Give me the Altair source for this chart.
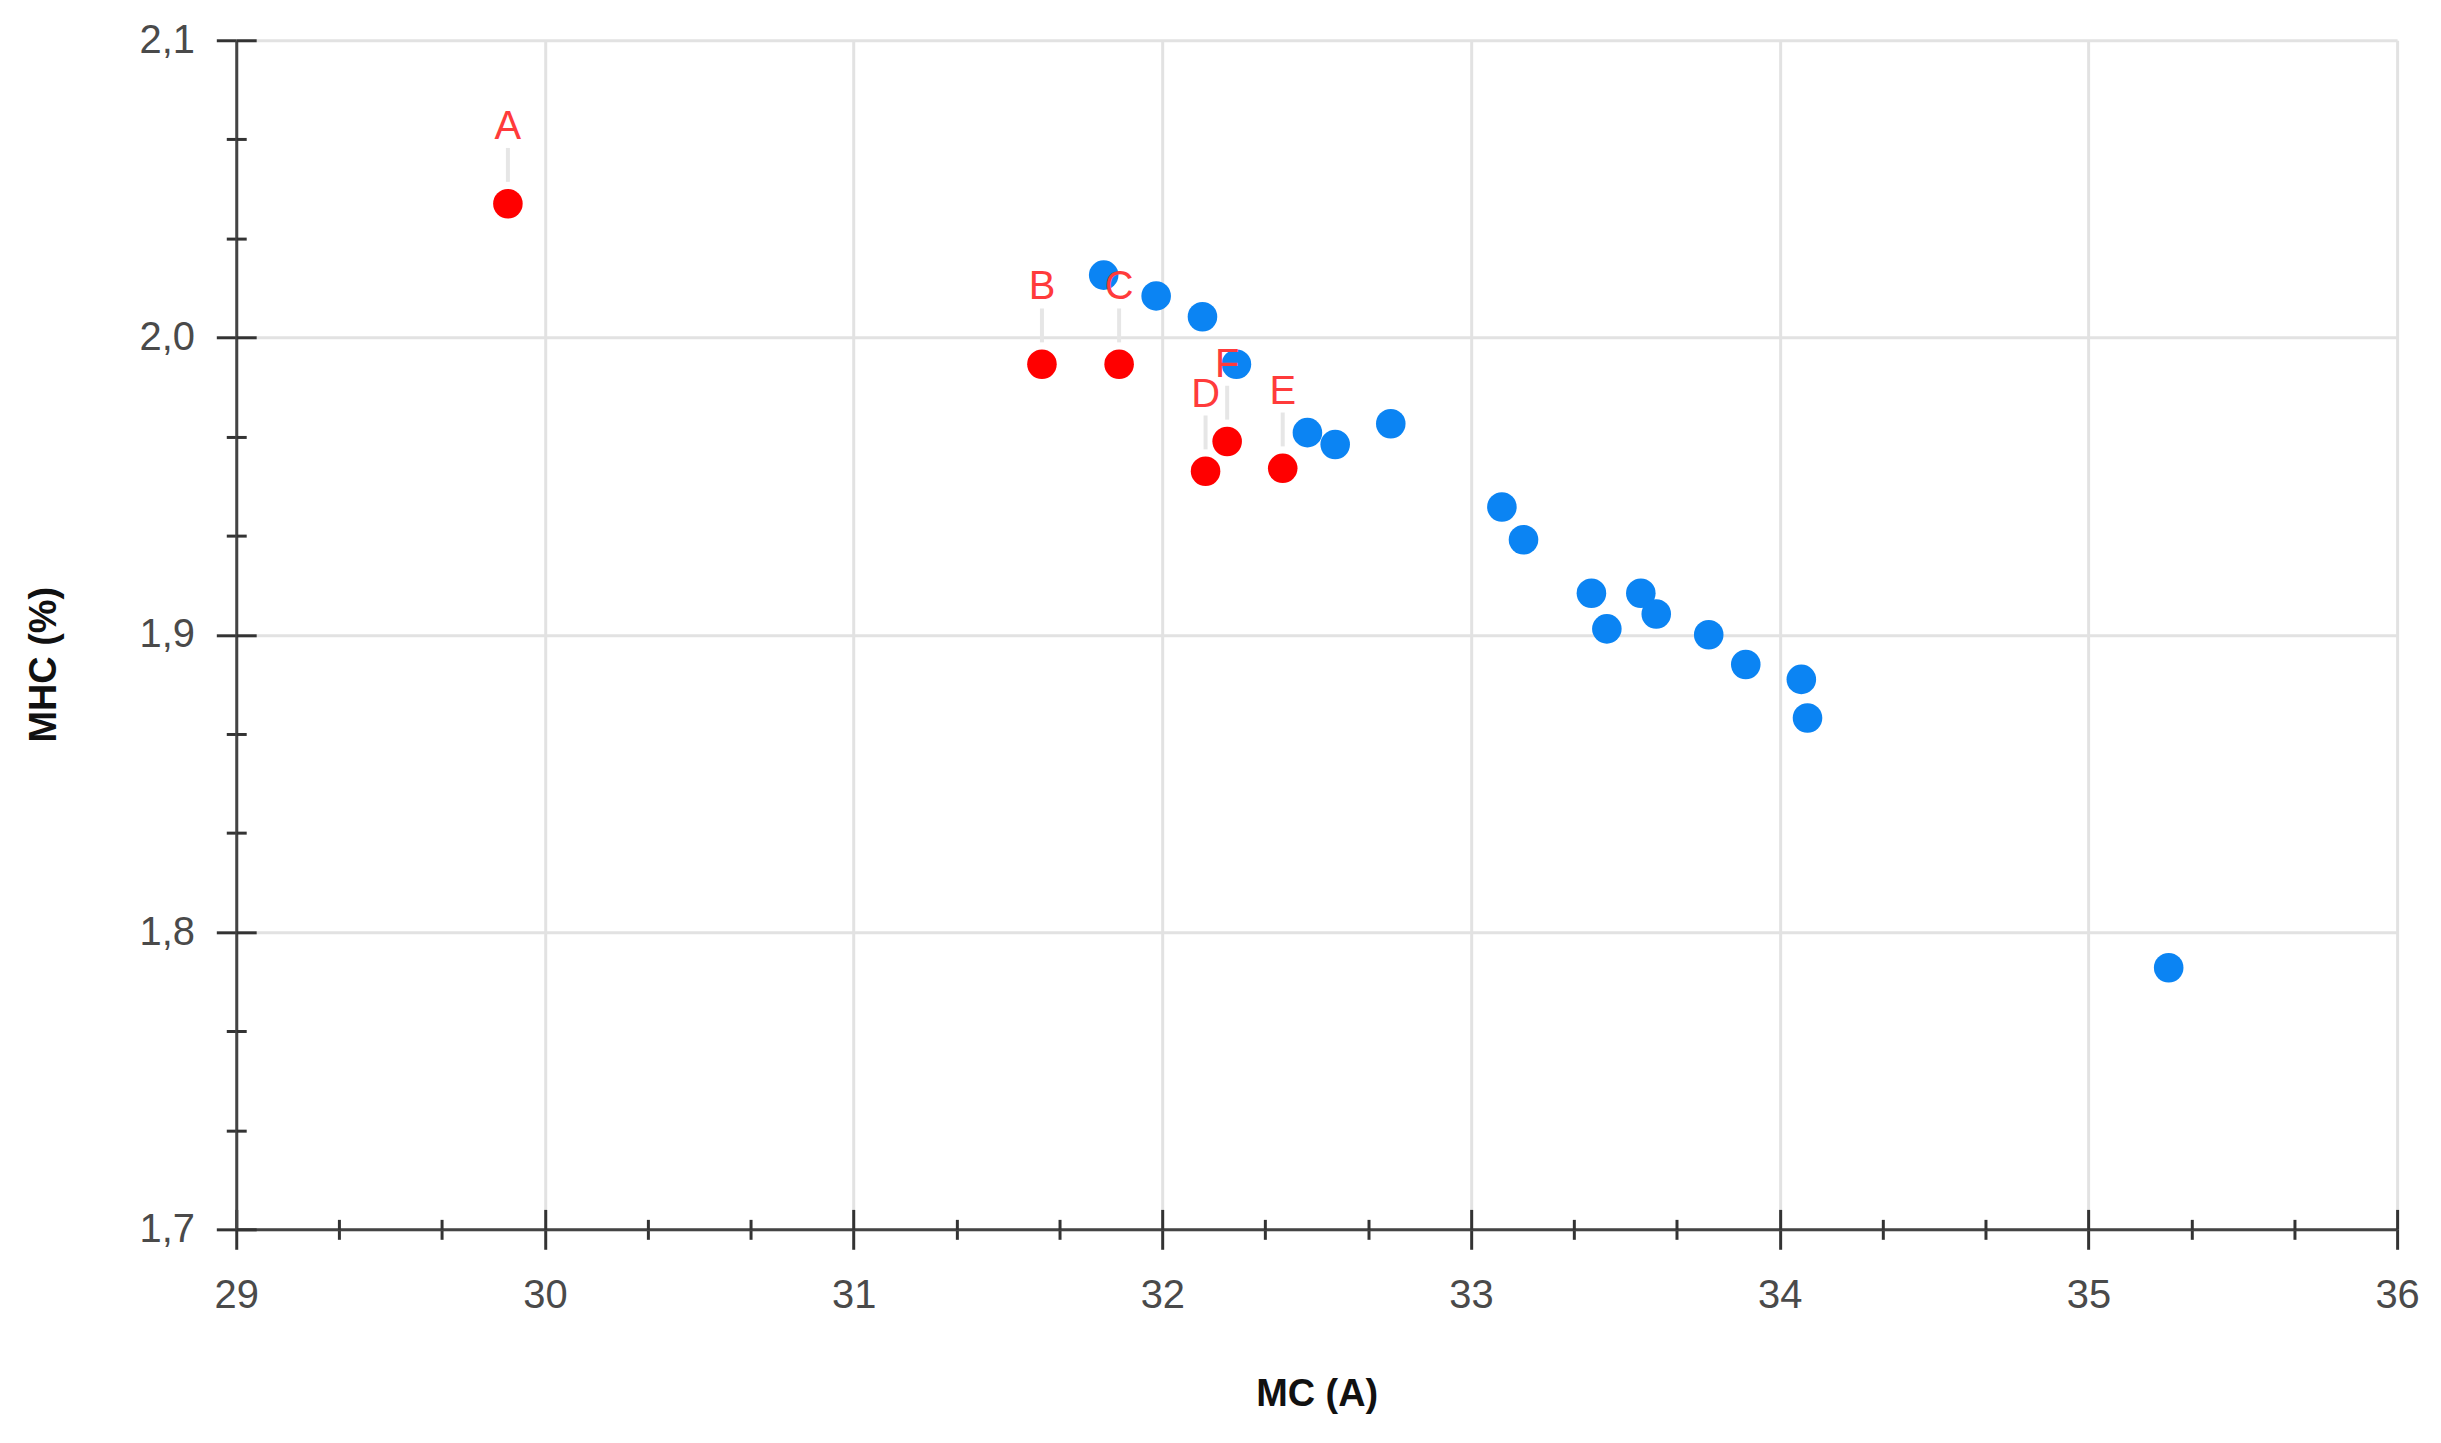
import altair as alt
import pandas as pd

# red (labelled) samples
red_labels = ["A", "B", "C", "D", "E", "F"]
red_mc = [29.88, 31.61, 31.86, 32.14, 32.39, 32.21]
red_mhc = [2.045, 1.991, 1.991, 1.955, 1.956, 1.965]

# blue samples
blue_mc = [31.81, 31.98, 32.13, 32.24, 32.47, 32.56, 32.74, 33.10, 33.17,
           33.39, 33.44, 33.55, 33.60, 33.77, 33.89, 34.07, 34.09, 35.26]
blue_mhc = [2.021, 2.014, 2.007, 1.991, 1.968, 1.964, 1.971, 1.943, 1.932,
            1.914, 1.902, 1.914, 1.907, 1.900, 1.890, 1.885, 1.872, 1.788]

# axis ticks: majors plus two minor ticks in between
x_ticks = [round(29 + i / 3, 4) for i in range(22)]
y_ticks = [round(1.7 + i * 0.1 / 3, 5) for i in range(13)]

W, H = 2168, 1193

red = pd.DataFrame({"label": red_labels, "mc": red_mc, "mhc": red_mhc})
blue = pd.DataFrame({"mc": blue_mc, "mhc": blue_mhc})

x_major = "abs(datum.value - round(datum.value)) < 0.01"
y_major = "abs(datum.value * 10 - round(datum.value * 10)) < 0.01"
x_scale = alt.Scale(domain=[29, 36], nice=False, zero=False)
y_scale = alt.Scale(domain=[1.7, 2.1], nice=False, zero=False)

x_enc = alt.X(
    "mc:Q",
    scale=x_scale,
    axis=alt.Axis(
        title="MC (A)",
        values=x_ticks,
        labelExpr=f"{x_major} ? format(datum.value, 'd') : ''",
        tickSize={"condition": {"test": x_major, "value": 20}, "value": 10},
        gridOpacity={"condition": {"test": x_major, "value": 1}, "value": 0},
        labelPadding=26,
        labelFlush=False,
        labelOverlap=False,
        titleBaseline="middle",
        titleY=166,
    ),
)
y_enc = alt.Y(
    "mhc:Q",
    scale=y_scale,
    axis=alt.Axis(
        title="MHC (%)",
        values=y_ticks,
        labelExpr=f"{y_major} ? replace(format(datum.value, '.1f'), '.', ',') : ''",
        tickSize={"condition": {"test": y_major, "value": 20}, "value": 10},
        gridOpacity={"condition": {"test": y_major, "value": 1}, "value": 0},
        labelPadding=22,
        labelFlush=False,
        labelOverlap=False,
        titleBaseline="middle",
        titleAlign="center",
        titleX=-192,
        titleY=626,
    ),
)

# inner halves of the ticks, so they cross the axis lines
x_inner = alt.X(
    "mc:Q",
    scale=x_scale,
    axis=alt.Axis(
        orient="top", offset=-H, values=x_ticks, title=None, labels=False,
        domain=False, grid=False,
        tickSize={"condition": {"test": x_major, "value": 20}, "value": 10},
    ),
)
y_inner = alt.Y(
    "mhc:Q",
    scale=y_scale,
    axis=alt.Axis(
        orient="right", offset=-W, values=y_ticks, title=None, labels=False,
        domain=False, grid=False,
        tickSize={"condition": {"test": y_major, "value": 20}, "value": 10},
    ),
)

blue_pts = alt.Chart(blue).mark_circle(size=880, opacity=1, color="#0b84f3").encode(
    x=x_enc, y=y_enc
)
red_pts = alt.Chart(red).mark_circle(size=880, opacity=1, color="#ff0000").encode(
    x=x_inner, y=y_inner
)
leaders = alt.Chart(red).mark_rule(
    color="#e6e6e6", strokeWidth=4, yOffset=-22, y2Offset=-56
).encode(
    x=alt.X("mc:Q", axis=None),
    y=alt.Y("mhc:Q", axis=None),
    y2="mhc:Q",
)
labels = alt.Chart(red).mark_text(
    dy=-77, fontSize=40, color="#ff3b3b", font="Liberation Sans", baseline="middle"
).encode(
    x=alt.X("mc:Q", axis=None),
    y=alt.Y("mhc:Q", axis=None),
    text="label:N",
)

chart = (
    alt.layer(blue_pts, leaders, red_pts, labels)
    .resolve_axis(x="independent", y="independent")
    .properties(
        width=W,
        height=H,
        autosize=alt.AutoSizeParams(type="none"),
        padding={"left": 229, "top": 30, "right": 36, "bottom": 212},
    )
    .configure_view(strokeWidth=0)
    .configure_axis(
        labelFont="Liberation Sans",
        labelFontSize=40,
        labelColor="#4a4a4a",
        titleFont="Liberation Sans",
        titleFontSize=38,
        titleFontWeight="bold",
        titleColor="#111111",
        domainColor="#444444",
        domainWidth=3,
        tickColor="#333333",
        tickWidth=3,
        gridColor="#e2e2e2",
        gridWidth=3,
    )
)

chart.save("out.html", embed_options={"renderer": "svg", "actions": False})
